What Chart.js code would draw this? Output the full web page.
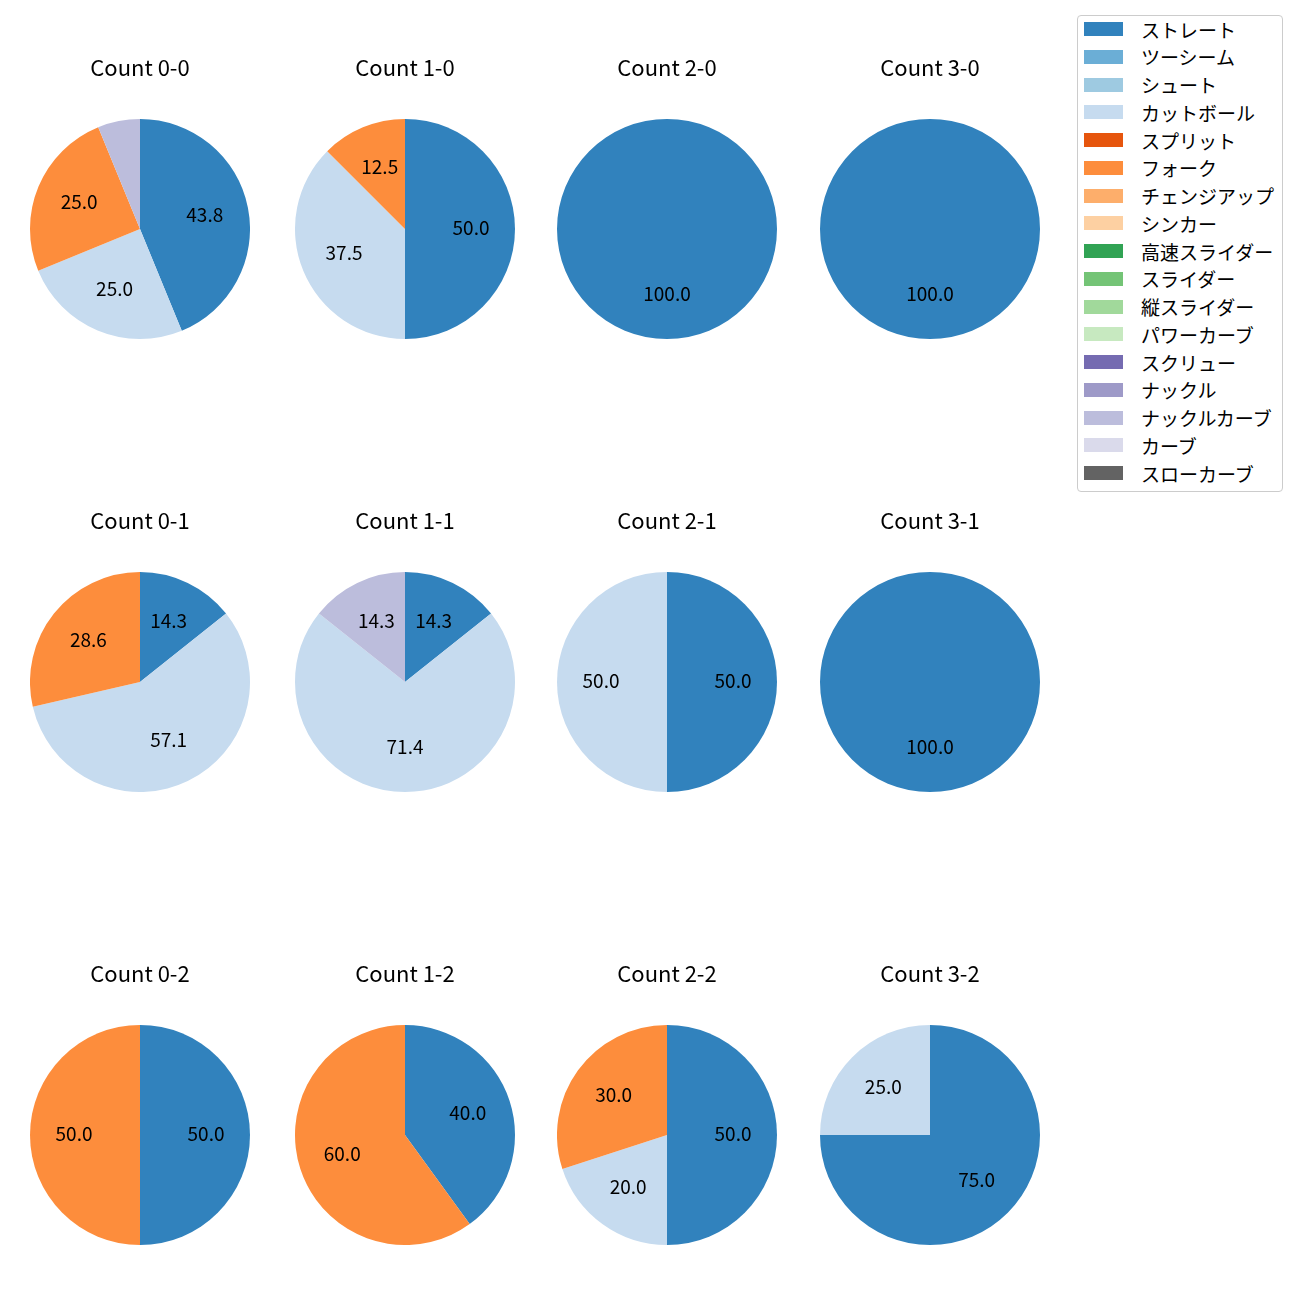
<!DOCTYPE html>
<html><head><meta charset="utf-8">
<script src="https://cdn.jsdelivr.net/npm/chart.js@4/dist/chart.umd.min.js"></script>
<style>
body{margin:0;background:#fff;width:1300px;height:1300px;position:relative;overflow:hidden;font-family:"Noto Sans CJK JP",sans-serif;}
.pc{position:absolute;}
#legend{position:absolute;left:1077px;top:15px;width:206px;height:477px;border:1px solid #ccc;border-radius:4px;box-sizing:border-box;background:#fff;}
.li{position:absolute;left:6px;height:20px;display:flex;align-items:center;font-size:19px;color:#000;white-space:nowrap;}
.sw{width:39px;height:14px;margin-right:18px;}
</style></head><body>
<div id="legend"></div>
<script>
const pitchTypes = ["ストレート","ツーシーム","シュート","カットボール","スプリット","フォーク","チェンジアップ","シンカー","高速スライダー","スライダー","縦スライダー","パワーカーブ","スクリュー","ナックル","ナックルカーブ","カーブ","スローカーブ"];
const pitchColors = ["#3182bd","#6baed6","#9ecae1","#c6dbef","#e6550d","#fd8d3c","#fdae6b","#fdd0a2","#31a354","#74c476","#a1d99b","#c7e9c0","#756bb1","#9e9ac8","#bcbddc","#dadaeb","#636363"];
const countTitles = ["Count 0-0","Count 1-0","Count 2-0","Count 3-0","Count 0-1","Count 1-1","Count 2-1","Count 3-1","Count 0-2","Count 1-2","Count 2-2","Count 3-2"];
// percentages per pitch type (same order as pitchTypes)
const c00 = [43.8,0,0,25.0,0,25.0,0,0,0,0,0,0,0,0,6.2,0,0];
const c10 = [50.0,0,0,37.5,0,12.5,0,0,0,0,0,0,0,0,0,0,0];
const c20 = [100.0,0,0,0,0,0,0,0,0,0,0,0,0,0,0,0,0];
const c30 = [100.0,0,0,0,0,0,0,0,0,0,0,0,0,0,0,0,0];
const c01 = [14.3,0,0,57.1,0,28.6,0,0,0,0,0,0,0,0,0,0,0];
const c11 = [14.3,0,0,71.4,0,0,0,0,0,0,0,0,0,0,14.3,0,0];
const c21 = [50.0,0,0,50.0,0,0,0,0,0,0,0,0,0,0,0,0,0];
const c31 = [100.0,0,0,0,0,0,0,0,0,0,0,0,0,0,0,0,0];
const c02 = [50.0,0,0,0,0,50.0,0,0,0,0,0,0,0,0,0,0,0];
const c12 = [40.0,0,0,0,0,60.0,0,0,0,0,0,0,0,0,0,0,0];
const c22 = [50.0,0,0,20.0,0,30.0,0,0,0,0,0,0,0,0,0,0,0];
const c32 = [75.0,0,0,25.0,0,0,0,0,0,0,0,0,0,0,0,0,0];
const countData = [c00,c10,c20,c30,c01,c11,c21,c31,c02,c12,c22,c32];

const colX = [30, 295, 557, 820];
const rowY = [50, 503, 956];

const pctLabels = {
  id:'pctLabels',
  afterDatasetsDraw(chart){
    const ctx = chart.ctx;
    const ds = chart.data.datasets[0];
    const meta = chart.getDatasetMeta(0);
    ctx.save();
    ctx.fillStyle = '#000';
    ctx.font = '19px "Noto Sans CJK JP"';
    ctx.textAlign = 'center';
    ctx.textBaseline = 'middle';
    meta.data.forEach((arc,i)=>{
      const v = ds.data[i];
      if(!v || v < 10) return;
      const p = arc.getProps(['x','y','startAngle','endAngle','outerRadius'],true);
      const mid = (p.startAngle + p.endAngle)/2;
      const r = p.outerRadius*0.6;
      ctx.fillText(v.toFixed(1), p.x + Math.cos(mid)*r, p.y + Math.sin(mid)*r - 1.5);
    });
    ctx.restore();
  }
};

countData.forEach((vals,k)=>{
  const cv = document.createElement('canvas');
  cv.className='pc';
  cv.width=220; cv.height=289;
  cv.style.left = colX[k%4]+'px';
  cv.style.top = rowY[Math.floor(k/4)]+'px';
  cv.style.width='220px'; cv.style.height='289px';
  document.body.appendChild(cv);
  new Chart(cv,{
    type:'pie',
    data:{labels:pitchTypes,datasets:[{data:vals,backgroundColor:pitchColors,borderWidth:0}]},
    options:{
      responsive:false,animation:false,
      layout:{padding:0},
      plugins:{
        legend:{display:false},tooltip:{enabled:false},
        title:{display:true,text:countTitles[k],color:'#000',font:{family:'"Noto Sans CJK JP"',size:22,weight:'normal',lineHeight:1.2},padding:{top:4.8,bottom:37.8}}
      }
    },
    plugins:[pctLabels]
  });
});

const lg = document.getElementById('legend');
pitchTypes.forEach((t,i)=>{
  const d = document.createElement('div');
  d.className='li';
  d.style.top = (3 + i*27.75)+'px';
  d.innerHTML = '<div class="sw" style="background:'+pitchColors[i]+'"></div><span>'+t+'</span>';
  lg.appendChild(d);
});
</script>
</body></html>
